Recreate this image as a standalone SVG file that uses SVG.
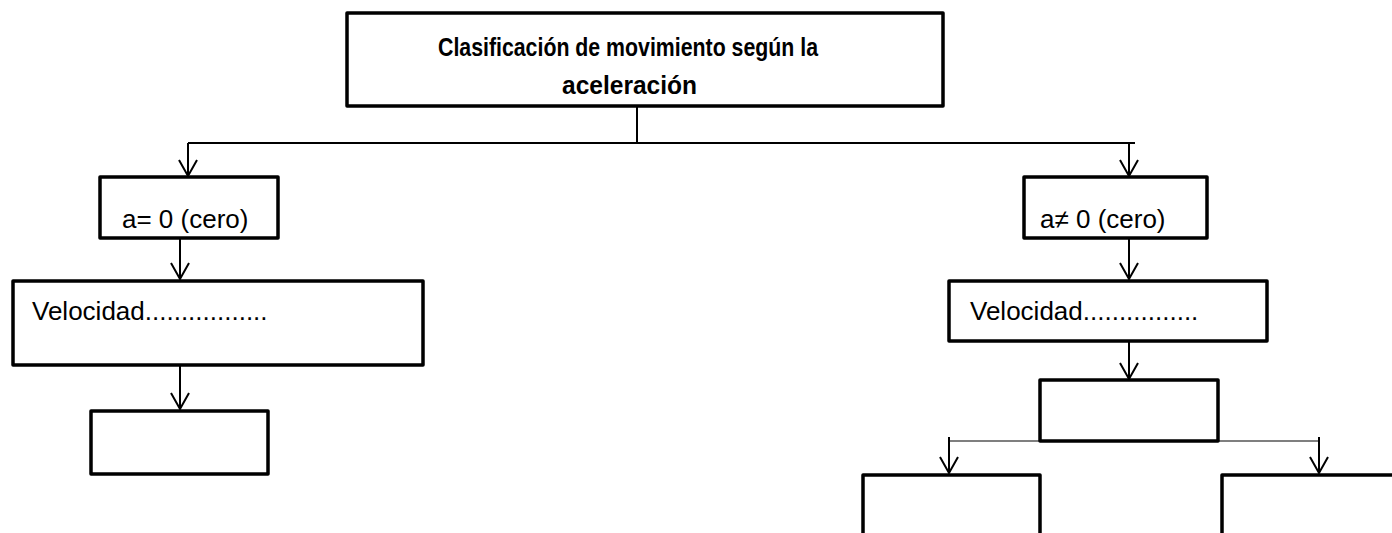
<svg xmlns="http://www.w3.org/2000/svg" width="1392" height="533" viewBox="0 0 1392 533">
<style>
.box{fill:#fff;stroke:#000;stroke-width:3.5;stroke-linejoin:round}
.ln{fill:none;stroke:#000;stroke-width:2}
.thin{fill:none;stroke:#000;stroke-width:1.2}
.ah{fill:none;stroke:#000;stroke-width:2;stroke-linejoin:miter}
.t{font-family:"Liberation Sans",Arial,sans-serif;font-size:26px;fill:#000}
.tb{font-family:"Liberation Sans",Arial,sans-serif;font-size:26px;font-weight:bold;fill:#000}
</style>
<rect width="1392" height="533" fill="#fff"/>
<g id="connectors">
<path class="ln" d="M637,106 V143 M188,143 H1135 M188,143 V176 M1129,143 V176"/>
<path class="ah" d="M179,160 L188,176 L197,160 M1120,160 L1129,176 L1138,160"/>
<path class="ln" d="M180,238 V279 M1129,238 V279"/>
<path class="ah" d="M171,263 L180,279 L189,263 M1120,263 L1129,279 L1138,263"/>
<path class="ln" d="M180,365 V409"/>
<path class="ah" d="M171,393 L180,409 L189,393"/>
<path class="ln" d="M1129,341 V379"/>
<path class="ah" d="M1120,363 L1129,379 L1138,363"/>
<path class="thin" d="M949,441 H1319"/>
<path class="ln" d="M949,437 V473 M1319,437 V473"/>
<path class="ah" d="M940,457 L949,473 L958,457 M1310,457 L1319,473 L1328,457"/>
</g>
<g id="title">
<rect class="box" x="347" y="13" width="596" height="93"/>
<text class="tb" x="438" y="56" textLength="380" lengthAdjust="spacingAndGlyphs">Clasificación de movimiento según la</text>
<text class="tb" x="562" y="94" textLength="135" lengthAdjust="spacingAndGlyphs">aceleración</text>
</g>
<g id="a-zero">
<rect class="box" x="100" y="177" width="178" height="61"/>
<text class="t" x="122" y="228">a= 0 (cero)</text>
</g>
<g id="vel-left">
<rect class="box" x="13" y="281" width="410" height="84"/>
<text class="t" x="32" y="320">Velocidad.................</text>
</g>
<g id="box-left">
<rect class="box" x="91" y="411" width="177" height="63"/>
</g>
<g id="a-nonzero">
<rect class="box" x="1024" y="177" width="183" height="61"/>
<text class="t" x="1040" y="228">a≠ 0 (cero)</text>
</g>
<g id="vel-right">
<rect class="box" x="949" y="281" width="318" height="60"/>
<text class="t" x="970" y="320">Velocidad................</text>
</g>
<g id="box-mid">
<rect class="box" x="1040" y="380" width="178" height="61"/>
</g>
<g id="box-bl">
<rect class="box" x="863" y="475" width="177" height="70"/>
</g>
<g id="box-br">
<rect class="box" x="1222" y="475" width="190" height="70"/>
</g>
</svg>
